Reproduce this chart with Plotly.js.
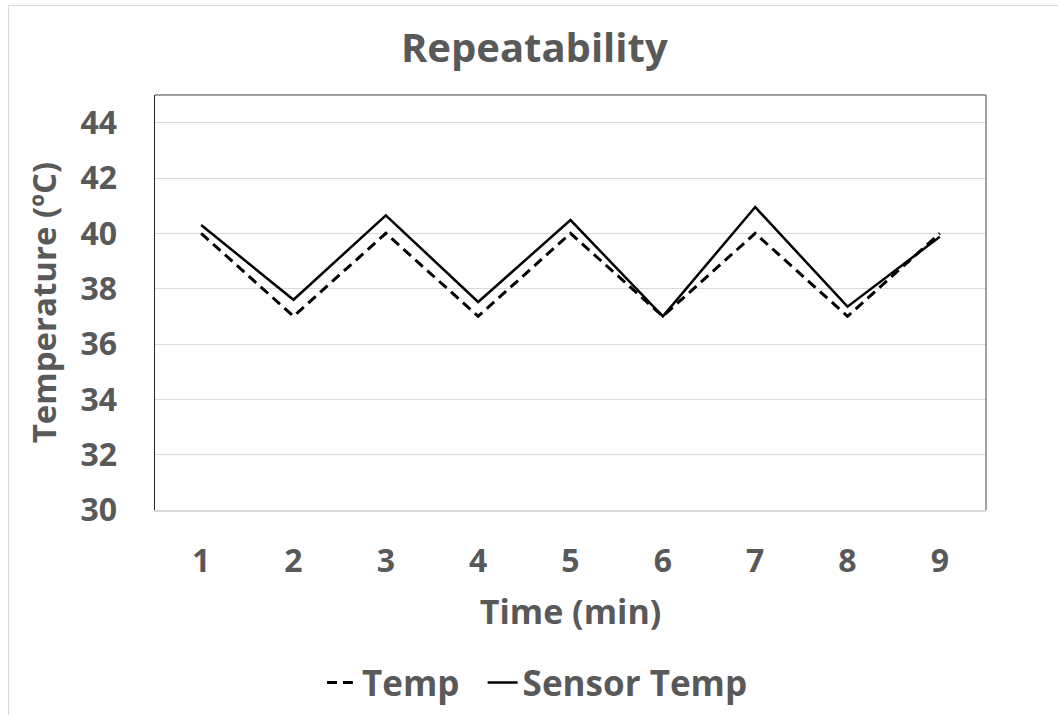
<!DOCTYPE html>
<html>
<head>
<meta charset="utf-8">
<script src="https://cdn.plot.ly/plotly-3.0.1.min.js"></script>
<style>
  html, body { margin: 0; padding: 0; background: #fff; }
  #frame { position: absolute; left: 8px; top: 5px; width: 1060px; height: 720px; border-left: 1px solid #d9d9d9; border-top: 1px solid #d9d9d9; }
  #chart { position: absolute; left: 0; top: 0; width: 1058px; height: 715px; }
</style>
</head>
<body>
<div id="frame"></div>
<div id="chart"></div>
<script>
const timeMin = [1, 2, 3, 4, 5, 6, 7, 8, 9];
const tempValues = [40, 37, 40, 37, 40, 37, 40, 37, 40];
const sensorTempValues = [40.3, 37.6, 40.65, 37.52, 40.48, 37.0, 40.95, 37.35, 39.88];
const yTicks = [30, 32, 34, 36, 38, 40, 42, 44];

const fontFamily = '"Open Sans", "Liberation Sans", sans-serif';
const textColor = '#595959';

const traces = [
  {
    x: timeMin, y: tempValues, name: '<b>Temp</b>&nbsp;&nbsp;', type: 'scatter', mode: 'lines',
    line: { color: '#000000', width: 3, dash: '10px,6px' }
  },
  {
    x: timeMin, y: sensorTempValues, name: '<b>Sensor Temp</b>', type: 'scatter', mode: 'lines',
    line: { color: '#000000', width: 2.5 }
  }
];

const layout = {
  width: 1058, height: 715,
  paper_bgcolor: 'rgba(0,0,0,0)', plot_bgcolor: '#ffffff',
  margin: { l: 155, r: 72, t: 95, b: 205 },
  font: { family: fontFamily, color: textColor, size: 30 },
  title: {
    text: '<b>Repeatability</b>', xref: 'container', x: 0.505, xanchor: 'center',
    yref: 'container', y: 0.933, yanchor: 'middle',
    font: { family: fontFamily, size: 40, color: textColor }
  },
  xaxis: {
    range: [0.5, 9.5], tickvals: timeMin, ticktext: timeMin.map(v => '<b>' + v + '</b>'),
    showgrid: false, zeroline: false, ticks: '', ticklabelstandoff: 22,
    showline: true, linecolor: '#d9d9d9', linewidth: 1.5,
    tickfont: { size: 32, color: textColor, family: fontFamily },
    title: { text: '<b>Time (min)</b>', standoff: 20, font: { size: 34, color: textColor, family: fontFamily } }
  },
  yaxis: {
    range: [30, 45], tickvals: yTicks, ticktext: yTicks.map(v => '<b>' + v + '</b>'),
    showgrid: true, gridcolor: '#d9d9d9', gridwidth: 1, zeroline: false, ticks: '',
    ticklabelstandoff: 30,
    showline: true, linecolor: '#262626', linewidth: 1.5,
    tickfont: { size: 32, color: textColor, family: fontFamily },
    title: { text: '<b>Temperature (ºC)</b>', standoff: 14, font: { size: 33, color: textColor, family: fontFamily } }
  },
  shapes: [
    { type: 'line', xref: 'paper', yref: 'paper', x0: 0, x1: 1, y0: 1, y1: 1, line: { color: '#7f7f7f', width: 1.5 } },
    { type: 'line', xref: 'paper', yref: 'paper', x0: 1, x1: 1, y0: 0, y1: 1, line: { color: '#7f7f7f', width: 1.5 } }
  ],
  showlegend: true,
  legend: {
    orientation: 'h', xref: 'container', x: 0.508, xanchor: 'center',
    yref: 'container', y: 0.045, yanchor: 'middle',
    font: { size: 35, color: textColor, family: fontFamily },
    itemwidth: 30, tracegroupgap: 0, bgcolor: 'rgba(0,0,0,0)'
  }
};

Plotly.newPlot('chart', traces, layout, { displayModeBar: false, staticPlot: true });
</script>
</body>
</html>
